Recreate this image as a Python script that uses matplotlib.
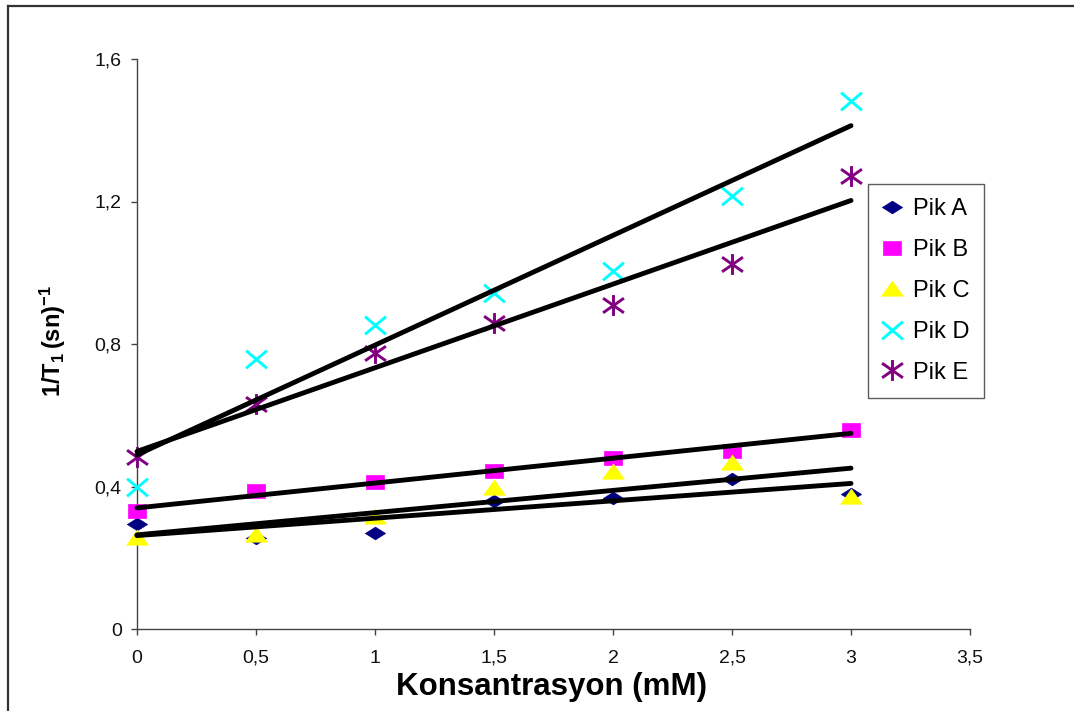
import numpy as np
import matplotlib
matplotlib.use("Agg")
import matplotlib.pyplot as plt
from matplotlib.path import Path
from matplotlib.lines import Line2D

plt.rcParams["font.family"] = ["Liberation Sans", "DejaVu Sans"]
plt.rcParams["mathtext.fontset"] = "custom"
plt.rcParams["mathtext.rm"] = "Liberation Sans"
plt.rcParams["mathtext.bf"] = "Liberation Sans:bold"

# Concentration (mM)
konsantrasyon = [0, 0.5, 1, 1.5, 2, 2.5, 3]

# 1/T1 values (1/s) for each peak
pik_a = [0.295, 0.255, 0.27, 0.36, 0.368, 0.42, 0.38]
pik_b = [0.33, 0.387, 0.413, 0.444, 0.48, 0.50, 0.558]
pik_c = [0.255, 0.264, 0.315, 0.395, 0.44, 0.466, 0.37]
pik_d = [0.40, 0.758, 0.853, 0.943, 1.005, 1.215, 1.482]
pik_e = [0.483, 0.632, 0.775, 0.859, 0.909, 1.025, 1.272]

series_names = ["Pik A", "Pik B", "Pik C", "Pik D", "Pik E"]

x_ticks = [0, 0.5, 1, 1.5, 2, 2.5, 3, 3.5]
x_tick_labels = ["0", "0,5", "1", "1,5", "2", "2,5", "3", "3,5"]
y_ticks = [0, 0.4, 0.8, 1.2, 1.6]
y_tick_labels = ["0", "0,4", "0,8", "1,2", "1,6"]

# Marker shapes (slightly wide, spreadsheet style)
diamond = [(-1, 0), (0, 0.63), (1, 0), (0, -0.63), (-1, 0)]
square = [(-1, -0.78), (1, -0.78), (1, 0.78), (-1, 0.78), (-1, -0.78)]
triangle = [(-1, -0.62), (1, -0.62), (0, 0.78), (-1, -0.62)]
cross = Path([(-1, -0.85), (1, 0.85), (-1, 0.85), (1, -0.85)],
             [Path.MOVETO, Path.LINETO, Path.MOVETO, Path.LINETO])
star = Path([(-1, -0.7), (1, 0.7), (-1, 0.7), (1, -0.7), (0, -1), (0, 1)],
            [Path.MOVETO, Path.LINETO, Path.MOVETO, Path.LINETO,
             Path.MOVETO, Path.LINETO])

styles = [
    dict(marker=diamond, color="#000080", ms=14.5, filled=True),
    dict(marker=square, color="#FF00FF", ms=13, filled=True),
    dict(marker=triangle, color="#FFFF00", ms=15.5, filled=True),
    dict(marker=cross, color="#00FFFF", ms=15, filled=False),
    dict(marker=star, color="#800080", ms=15, filled=False),
]

fig = plt.figure(figsize=(10.74, 7.11), dpi=100)
ax = fig.add_axes([137 / 1074, 1 - 629 / 711, (970 - 137) / 1074, (629 - 59) / 711])

x = np.array(konsantrasyon)
all_series = [pik_a, pik_b, pik_c, pik_d, pik_e]

for name, ys, st in zip(series_names, all_series, styles):
    if st["filled"]:
        ax.plot(x, ys, linestyle="none", marker=st["marker"], ms=st["ms"],
                markerfacecolor=st["color"], markeredgecolor=st["color"],
                markeredgewidth=0.5, label=name, zorder=3, clip_on=False)
    else:
        ax.plot(x, ys, linestyle="none", marker=st["marker"], ms=st["ms"],
                markerfacecolor="none", markeredgecolor=st["color"],
                markeredgewidth=2.1, label=name, zorder=3, clip_on=False)

# Linear trend lines for each peak
for ys in all_series:
    slope, intercept = np.polyfit(x, ys, 1)
    xx = np.array([x.min(), x.max()])
    ax.plot(xx, slope * xx + intercept, color="black", lw=3.5,
            solid_capstyle="round", zorder=4, clip_on=False)

ax.set_xlim(0, 3.5)
ax.set_ylim(0, 1.6)
ax.set_xticks(x_ticks)
ax.set_xticklabels(x_tick_labels)
ax.set_yticks(y_ticks)
ax.set_yticklabels(y_tick_labels)

for side in ("top", "right"):
    ax.spines[side].set_visible(False)
for side in ("left", "bottom"):
    ax.spines[side].set_color("#444444")
    ax.spines[side].set_linewidth(1.0)

ax.tick_params(axis="both", direction="out", length=4, width=1.0,
               color="#444444", labelsize=14, labelcolor="#111111")
ax.tick_params(axis="x", pad=11)
ax.tick_params(axis="y", pad=7)

ax.set_xlabel("Konsantrasyon (mM)", fontsize=22.5, fontweight="bold")
ax.set_ylabel(r"$\mathbf{1/T_1\,(sn)^{-1}}$", fontsize=17)
ax.yaxis.set_label_coords(-0.083, 0.505)
ax.xaxis.set_label_coords(0.497, -0.076)

leg = ax.legend(loc="upper left", bbox_to_anchor=(868 / 1074, 1 - 184 / 711),
                bbox_transform=fig.transFigure, fontsize=17, frameon=True,
                fancybox=False, edgecolor="#333333", numpoints=1,
                handlelength=0.85, handletextpad=0.45, labelspacing=0.8,
                borderpad=0.6, borderaxespad=0)
leg.get_frame().set_linewidth(1.0)

# Outer chart-area frame (left and top edges visible)
fig.add_artist(Line2D([8 / 1074, 8 / 1074], [0, 1 - 6 / 711],
                      transform=fig.transFigure, color="#333333", lw=1.6))
fig.add_artist(Line2D([8 / 1074, 1], [1 - 6 / 711, 1 - 6 / 711],
                      transform=fig.transFigure, color="#333333", lw=1.6))

fig.savefig("out.png", dpi=100)
